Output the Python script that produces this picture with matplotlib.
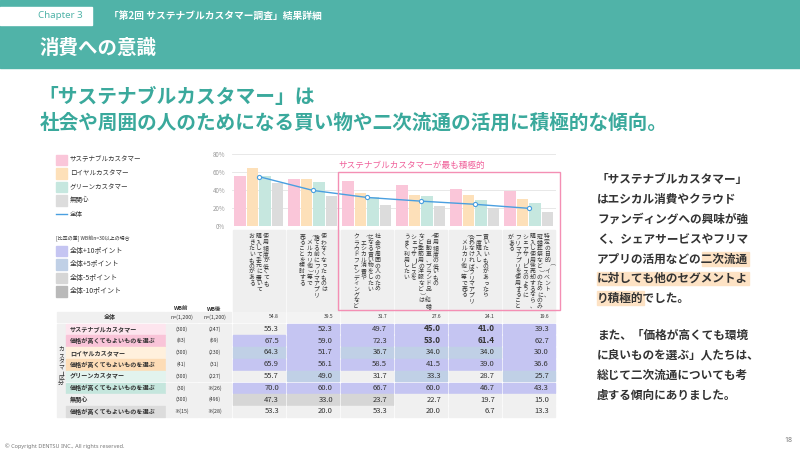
import numpy as np
import matplotlib
matplotlib.use("Agg")
import matplotlib.pyplot as plt
from matplotlib.patches import Rectangle

plt.rcParams['font.family'] = ['Noto Sans CJK JP', 'DejaVu Sans']

# ---------------- data ----------------
group_labels = [
    ["使用頻度が低くても", "購入して手元に置いて", "おきたいものがある"],
    ["使わなくなったものは", "捨てる前にフリマアプリ", "（メルカリ他）等で", "売ることを検討する"],
    ["社会や周囲の人のため", "になる買い物をしたい", "（エシカル消費や", "クラウドファンディングなど）"],
    ["使用頻度の低いもの", "（自動車、ブランド品、結婚式", "など季節用の洋服など）は", "シェアサービスを", "うまく利用したい"],
    ["買いたいものがあったら", "一度購入し、", "合わなければフリマアプリ", "（メルカリ他）等で売る"],
    ["特定の目的（イベント、", "冠婚葬祭など）のためにのみ", "購入し使用後売却するなら、", "シェアサービスのように", "フリマアプリを使用すること", "がある"],
]
series_names = ["サステナブルカスタマー", "ロイヤルカスタマー", "グリーンカスタマー", "無関心"]
overall = [54.8, 39.5, 31.7, 27.6, 24.1, 19.6]
sustainable = [55.3, 52.3, 49.7, 45.0, 41.0, 39.3]
sustainable_price = [67.5, 59.0, 72.3, 53.0, 61.4, 62.7]
royal = [64.3, 51.7, 36.7, 34.0, 34.0, 30.0]
royal_price = [65.9, 56.1, 58.5, 41.5, 39.0, 36.6]
green = [55.7, 49.0, 31.7, 33.3, 28.7, 25.7]
green_price = [70.0, 60.0, 66.7, 60.0, 46.7, 43.3]
indifferent = [47.3, 33.0, 23.7, 22.7, 19.7, 15.0]
indifferent_price = [53.3, 20.0, 53.3, 20.0, 6.7, 13.3]

row_labels = ["サステナブルカスタマー", "価格が高くてもよいものを選ぶ",
              "ロイヤルカスタマー", "価格が高くてもよいものを選ぶ",
              "グリーンカスタマー", "価格が高くてもよいものを選ぶ",
              "無関心", "価格が高くてもよいものを選ぶ"]
n_before = [300, 83, 300, 41, 300, 30, 300, 15]
n_before_txt = ["(300)", "(83)", "(300)", "(41)", "(300)", "(30)", "(300)", "※(15)"]
n_after_txt = ["(247)", "(69)", "(230)", "(31)", "(227)", "※(26)", "(496)", "※(28)"]
bold_cells = [(0, 3), (0, 4), (1, 3), (1, 4)]

diff_legend = ["全体+10ポイント", "全体+5ポイント", "全体-5ポイント", "全体-10ポイント"]

right_para1 = ["「サステナブルカスタマー」", "はエシカル消費やクラウド", "ファンディングへの興味が強",
               "く、シェアサービスやフリマ", "アプリの活用などの二次流通", "に対しても他のセグメントよ",
               "り積極的でした。"]
right_para2 = ["また、「価格が高くても環境", "に良いものを選ぶ」人たちは、", "総じて二次流通についても考",
               "慮する傾向にありました。"]
highlights = [(4, 9, 13), (5, 0, 13), (6, 0, 4)]

# ---------------- styles ----------------
W, H = 800, 450
TEAL = '#50b3a8'
bar_colors = ['#fac6d9', '#fde0b9', '#c6e7df', '#dcdcdc']
diff_colors = ['#c5c5f2', '#c0d0e6', '#d6d6d6', '#b9b9b9']
label_bg = ['#fde5ee', '#f9c4d8', '#fff0dd', '#fddcb6', '#e2f3ee', '#c5e6dd', '#f0f0f0', '#dcdcdc']
DEFAULT_CELL = '#f0f0f0'

fig = plt.figure(figsize=(8, 4.5), dpi=100)

# ---------------- bar chart ----------------
GX0, GW, NG = 232, 54, 6
ax = fig.add_axes([GX0 / W, (H - 226) / H, GW * NG / W, 76 / H])
x = np.arange(NG)
offs = [-0.35, -0.12, 0.11, 0.34]
for vals, c, o in zip([sustainable, royal, green, indifferent], bar_colors, offs):
    ax.bar(x + o, vals, 0.21, color=c, zorder=2)
ax.plot(x, overall, color='#4a9fe0', lw=1, marker='o', ms=3, mfc='white',
        mec='#4a9fe0', mew=0.8, zorder=3)
ax.set_xlim(-0.5, NG - 0.5)
ax.set_ylim(0, 84.4)
ax.set_yticks([0, 20, 40, 60, 80])
ax.set_yticklabels(['0%', '20%', '40%', '60%', '80%'])
ax.set_xticks([])
ax.tick_params(length=0, labelsize=4.5, colors='#9a9a9a', pad=5)
ax.grid(axis='y', color='#e4e4e4', lw=0.6, zorder=0)
for sp in ax.spines.values():
    sp.set_visible(False)
ax.patch.set_visible(False)

# ---------------- layout overlay ----------------
lay = fig.add_axes([0, 0, 1, 1])
lay.set_xlim(0, W)
lay.set_ylim(H, 0)
lay.axis('off')

# header
lay.add_patch(Rectangle((0, 0), W, 68, color=TEAL, zorder=0))
lay.add_patch(Rectangle((0, 7), 92, 18, color='white', zorder=1))
lay.text(60, 16, "Chapter 3", color=TEAL, fontsize=7, ha='center', va='center',
         family=['Noto Sans', 'DejaVu Sans'])
lay.text(109, 15.5, "「第2回 サステナブルカスタマー調査」結果詳細", color='white', fontsize=7,
         ha='left', va='center', fontweight='bold')
lay.text(40, 48, "消費への意識", color='white', fontsize=14, ha='left', va='center', fontweight='bold')

# title
lay.text(38, 97, "「サステナブルカスタマー」は", color='#3aa99c', fontsize=14.2,
         fontweight='bold', ha='left', va='center')
lay.text(40, 123, "社会や周囲の人のためになる買い物や二次流通の活用に積極的な傾向。", color='#3aa99c',
         fontsize=14.1, fontweight='bold', ha='left', va='center')

# legend
for k, (name, c) in enumerate(zip(series_names, bar_colors)):
    yy = 159.5 + 13.6 * k
    lay.add_patch(Rectangle((56, yy - 5), 10.5, 10.5, color=c))
    lay.text(70, yy, name, fontsize=4.7, color='#333333', ha='left', va='center')
yy = 159.5 + 13.6 * 4
lay.plot([56, 66.5], [yy, yy], color='#4a9fe0', lw=1)
lay.text(70, yy, "全体", fontsize=4.7, color='#333333', ha='left', va='center')
lay.text(56, 238.5, "[比率の差] WB前n=30以上の場合", fontsize=3.6, color='#333333', ha='left', va='center')
for k, (name, c) in enumerate(zip(diff_legend, diff_colors)):
    yy = 250.5 + 13.6 * k
    lay.add_patch(Rectangle((56, yy - 5), 10.5, 10.5, color=c))
    lay.text(70, yy, name, fontsize=5, color='#333333', ha='left', va='center')

# pink highlight box
lay.add_patch(Rectangle((337.5, 172), 222, 137.5, fill=False, ec='#f48fb4', lw=1, zorder=5))
lay.text(338, 165, "サステナブルカスタマーが最も積極的", color='#f0609a', fontsize=6.2,
         ha='left', va='center')

# category label boxes with vertical text
ROT_CHARS = 'ー（）()「」-'
step, csp = 5.8, 7.2
for i, lines in enumerate(group_labels):
    gx = GX0 + GW * i
    lay.add_patch(Rectangle((gx + 1, 229.5), GW - 2, 82, color='#efefef', zorder=1))
    cx = gx + GW / 2
    n = len(lines)
    for j, line in enumerate(lines):
        xx = cx + (n - 1) / 2 * csp - j * csp
        for m, ch in enumerate(line):
            yy = 234 + step * m + step / 2
            if yy > 308:
                break
            rot = -90 if ch in ROT_CHARS else 0
            lay.text(xx, yy, ch, fontsize=4.2, color='#333333', ha='center', va='center',
                     rotation=rot, zorder=2)

# ---------------- table ----------------
ROW0, RH, CH = 317, 11.8, 10.6
lay.text(181.5, 309, "WB前", fontsize=4, fontweight='bold', ha='center', va='center', color='#333')
lay.text(214.5, 309, "WB後", fontsize=4, fontweight='bold', ha='center', va='center', color='#333')


def cell(x0, x1, yc, color):
    lay.add_patch(Rectangle((x0, yc - CH / 2), x1 - x0, CH, color=color, zorder=1))


# overall row
cell(57, 164.5, ROW0, DEFAULT_CELL)
lay.text(110, ROW0, "全体", fontsize=4.3, fontweight='bold', ha='center', va='center', color='#333')
cell(166, 197.5, ROW0, DEFAULT_CELL)
cell(199, 230.5, ROW0, DEFAULT_CELL)
lay.text(181.5, ROW0, "n=(1,200)", fontsize=3.8, ha='center', va='center', color='#333')
lay.text(214.5, ROW0, "n=(1,200)", fontsize=3.8, ha='center', va='center', color='#333')
for i, v in enumerate(overall):
    gx = GX0 + GW * i
    cell(gx + 0.8, gx + GW - 0.8, ROW0, '#f3f3f3')
    lay.text(gx + GW - 7, ROW0, f"{v:.1f}", fontsize=3.6, ha='right', va='center', color='#333')

# segment column
lay.add_patch(Rectangle((57, ROW0 + RH - CH / 2), 8, RH * 7 + CH, color=DEFAULT_CELL, zorder=1))
for m, ch in enumerate("カスタマー区分"):
    yy = ROW0 + RH * 4.5 - 3.5 * 5.8 + 5.8 * m
    lay.text(61, yy, ch, fontsize=4.2, color='#333', ha='center', va='center',
             rotation=(-90 if ch in ROT_CHARS else 0), zorder=2)

table_rows = [sustainable, sustainable_price, royal, royal_price,
              green, green_price, indifferent, indifferent_price]
for r, vals in enumerate(table_rows):
    yc = ROW0 + RH * (r + 1)
    cell(66, 164.5, yc, label_bg[r])
    lay.text(70, yc, row_labels[r], fontsize=4.4, fontweight='bold', ha='left', va='center', color='#333')
    cell(166, 197.5, yc, DEFAULT_CELL)
    cell(199, 230.5, yc, DEFAULT_CELL)
    lay.text(181.5, yc, n_before_txt[r], fontsize=3.8, ha='center', va='center', color='#333')
    lay.text(214.5, yc, n_after_txt[r], fontsize=3.8, ha='center', va='center', color='#333')
    for i, v in enumerate(vals):
        gx = GX0 + GW * i
        d = v - overall[i]
        col = DEFAULT_CELL
        if n_before[r] >= 30:
            if d >= 10:
                col = diff_colors[0]
            elif d > 5:
                col = diff_colors[1]
            elif d <= -10:
                col = diff_colors[3]
            elif d < -5:
                col = diff_colors[2]
        cell(gx + 0.8, gx + GW - 0.8, yc, col)
        bold = (r, i) in bold_cells
        lay.text(gx + GW - 7, yc, f"{v:.1f}", fontsize=5.8 if bold else 5.5,
                 fontweight='bold' if bold else 'normal', ha='right', va='center', color='#333')

# ---------------- right text ----------------
FS = 8.4
ADV = FS * 100 / 72
TX = 597
for li, line in enumerate(right_para1):
    yc = 180 + 19.7 * li
    for (hl, a, b) in highlights:
        if hl == li:
            lay.add_patch(Rectangle((TX + a * ADV, yc - 6.8), (b - a) * ADV, 13.6,
                                    color='#fde2c4', zorder=1))
    lay.text(TX, yc, line, fontsize=FS, fontweight='bold', color='#333333',
             ha='left', va='center', zorder=2)
for li, line in enumerate(right_para2):
    yc = 335 + 20 * li
    lay.text(TX, yc, line, fontsize=FS, fontweight='bold', color='#333333',
             ha='left', va='center', zorder=2)

# footer
lay.text(5, 446, "© Copyright DENTSU INC., All rights reserved.", fontsize=4, color='#777777',
         ha='left', va='center', family=['Noto Sans', 'DejaVu Sans'])
lay.text(792, 441, "18", fontsize=5, color='#777777', ha='right', va='center',
         family=['Noto Sans', 'DejaVu Sans'])

fig.savefig("out.png", dpi=100)
